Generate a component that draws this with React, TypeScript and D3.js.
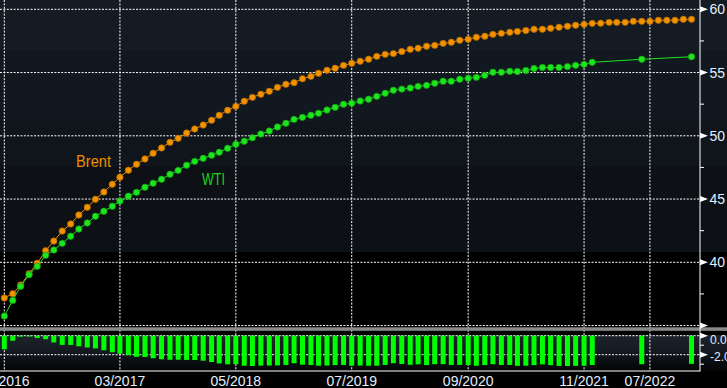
import * as React from "react"
import { scaleLinear, scaleUtc, line, utcMonth, range } from "d3"

// Brent futures curve, monthly contracts from 01/2016
const brentStart = "2016-01-01"
const brent = [
  37.18, 37.52, 38.2, 39.1, 39.92, 40.92, 41.68, 42.47, 43.03, 43.74,
  44.35, 44.98, 45.56, 46.17, 46.73, 47.28, 47.75, 48.17, 48.62, 49.04,
  49.49, 49.8, 50.22, 50.54, 50.85, 51.23, 51.62, 52.02, 52.33, 52.73,
  53.04, 53.29, 53.52, 53.83, 54.07, 54.2, 54.51, 54.7, 54.94, 55.18,
  55.34, 55.57, 55.73, 55.89, 56.05, 56.28, 56.44, 56.5, 56.66, 56.84,
  56.92, 57.08, 57.15, 57.31, 57.39, 57.55, 57.63, 57.79, 57.87, 58.02,
  58.1, 58.18, 58.25, 58.32, 58.42, 58.42, 58.5, 58.58, 58.66, 58.74,
  58.81, 58.89, 58.9, 58.97, 58.97, 58.97, 59.05, 59.05, 59.05, 59.13,
  59.13, 59.13, 59.21, 59.21,
]

// WTI: monthly to 12/2021, then 06/2022 and 12/2022
const wtiExtraMonths = ["2022-06-01", "2022-12-01"]
const wti = [
  35.75, 36.99, 38.1, 39.02, 39.68, 40.55, 40.97, 41.5, 42.06, 42.63,
  43.11, 43.64, 44.03, 44.43, 44.84, 45.23, 45.53, 45.93, 46.25, 46.56,
  46.96, 47.27, 47.67, 47.98, 48.22, 48.46, 48.7, 49.01, 49.33, 49.57,
  49.85, 50.14, 50.38, 50.7, 50.99, 51.3, 51.46, 51.62, 51.78, 52.04,
  52.25, 52.49, 52.57, 52.75, 52.89, 53.12, 53.36, 53.6, 53.69, 53.78,
  53.91, 53.99, 54.15, 54.31, 54.31, 54.47, 54.55, 54.62, 54.78, 55.02,
  55.02, 55.1, 55.08, 55.16, 55.32, 55.4, 55.4, 55.4, 55.47, 55.57,
  55.65, 55.81, 56.05, 56.25,
]

const xTicks = ["2016-01-01", "2017-03-01", "2018-05-01", "2019-07-01", "2020-09-01", "2021-11-01", "2022-07-01"]
const xTickLabels = ["01/2016", "03/2017", "05/2018", "07/2019", "09/2020", "11/2021", "07/2022"]
const yTicks = [35, 40, 45, 50, 55, 60]
const yMinor = [37.5, 42.5, 47.5, 52.5, 57.5]
const spreadTicks = [0, -2]
const spreadTickLabels = ["0.0", "-2.0"]
const spreadMinor = [-1, -3]

const W = 727
const H = 388
const axisX = 700

export default function App() {
  const start = new Date(brentStart)
  const brentDates = brent.map((_, i) => utcMonth.offset(start, i))
  const wtiDates = range(wti.length - wtiExtraMonths.length)
    .map((i) => utcMonth.offset(start, i))
    .concat(wtiExtraMonths.map((d) => new Date(d)))

  const x = scaleUtc()
    .domain([start, utcMonth.offset(start, 83)])
    .range([4.3, 4.3 + 83 * 8.28])
  const y = scaleLinear().domain([40, 60]).range([262.3, 9.3])
  const ys = scaleLinear().domain([0, -2]).range([335.7, 354.7])

  const brentPts = brent.map((v, i) => ({ d: brentDates[i], v }))
  const wtiPts = wti.map((v, i) => ({ d: wtiDates[i], v }))
  const spread = wtiPts.map((p) => {
    const b = brentPts.find((q) => +q.d === +p.d)
    return { d: p.d, v: p.v - (b ? b.v : p.v) }
  })

  const path = line<{ d: Date; v: number }>()
    .x((p) => x(p.d))
    .y((p) => y(p.v))

  const dash = "2 1.4"
  const font = "'Liberation Sans', Arial, sans-serif"
  const textCol = "#e4eefc"

  const bands = [
    [0, 50, "#151b22"],
    [50, 121, "#12181f"],
    [121, 166, "#10151b"],
    [166, 252, "#0d1116"],
  ] as const

  return (
    <div style={{ position: "fixed", left: 0, top: 0 }}>
      <svg width={W} height={H} style={{ display: "block" }}>
        <defs>
          <linearGradient id="lowbg" x1="0" y1="0" x2="0" y2="1">
            <stop offset="0" stopColor="#1c232b" />
            <stop offset="0.45" stopColor="#141a20" />
            <stop offset="1" stopColor="#030405" />
          </linearGradient>
          <clipPath id="main">
            <rect x={0} y={0} width={axisX} height={327} />
          </clipPath>
        </defs>
        <rect width={W} height={H} fill="#000" />
        {bands.map(([a, b, c]) => (
          <rect key={a} x={0} y={a} width={W} height={b - a} fill={c} />
        ))}
        <rect x={0} y={335} width={W} height={36} fill="url(#lowbg)" />

        {/* grid */}
        {yTicks.map((t) => (
          <line key={t} x1={0} x2={axisX} y1={y(t)} y2={y(t)} stroke="#fff" strokeDasharray={dash} />
        ))}
        {spreadTicks.map((t) => (
          <line key={t} x1={0} x2={axisX} y1={ys(t)} y2={ys(t)} stroke="#fff" strokeDasharray={dash} />
        ))}
        {xTicks.map((t) => (
          <line key={t} x1={x(new Date(t))} x2={x(new Date(t))} y1={0} y2={371} stroke="#fff" strokeDasharray={dash} />
        ))}

        {/* separator */}
        <rect x={0} y={327.3} width={W} height={3.5} fill="#8a8a8a" />

        {/* spread bars */}
        {spread.map((p, i) => (
          <rect
            key={i}
            x={x(p.d) - 2.5}
            y={ys(0)}
            width={5}
            height={ys(p.v) - ys(0)}
            fill="#00ff00"
          />
        ))}

        {/* curves */}
        <g clipPath="url(#main)">
          <path d={path(brentPts) || ""} fill="none" stroke="#f08c00" strokeWidth={1} />
          {brentPts.map((p, i) => (
            <circle key={i} cx={x(p.d)} cy={y(p.v)} r={3.2} fill="#f39200" stroke="#a86200" strokeWidth={0.7} />
          ))}
          <path d={path(wtiPts) || ""} fill="none" stroke="#1ee01e" strokeWidth={1} />
          {wtiPts.map((p, i) => (
            <circle key={i} cx={x(p.d)} cy={y(p.v)} r={3.2} fill="#1ee61e" stroke="#0e9a0e" strokeWidth={0.7} />
          ))}
        </g>

        <text x={76} y={166.5} fill="#f08c00" fontFamily={font} fontSize={16} textLength={35} lengthAdjust="spacingAndGlyphs">
          Brent
        </text>
        <text x={202} y={185} fill="#1ed21e" fontFamily={font} fontSize={16} textLength={23} lengthAdjust="spacingAndGlyphs">
          WTI
        </text>

        {/* right axis */}
        <line x1={axisX} x2={axisX} y1={0} y2={371.5} stroke="#fff" strokeWidth={1} />
        <line x1={0} x2={axisX} y1={371} y2={371} stroke="#fff" strokeWidth={1} />
        {yTicks.map((t) => (
          <g key={t}>
            <path d={`M${axisX},${y(t) - 3}L${axisX + 8},${y(t)}L${axisX},${y(t) + 3}Z`} fill="#fff" />
            {t > 35 && (
              <text x={709.5} y={y(t) + 5} fill={textCol} fontFamily={font} fontSize={14}>
                {t}
              </text>
            )}
          </g>
        ))}
        {yMinor.map((t) => (
          <line key={t} x1={axisX} x2={axisX + 4} y1={y(t)} y2={y(t)} stroke="#fff" />
        ))}
        {spreadTicks.map((t, i) => (
          <g key={t}>
            <path d={`M${axisX},${ys(t) - 3}L${axisX + 8},${ys(t)}L${axisX},${ys(t) + 3}Z`} fill="#fff" />
            <text x={710} y={ys(t) + (i === 0 ? 7.8 : 5.8)} fill={textCol} fontFamily={font} fontSize={12}>
              {spreadTickLabels[i]}
            </text>
          </g>
        ))}
        {spreadMinor.map((t) => (
          <line key={t} x1={axisX} x2={axisX + 4} y1={ys(t)} y2={ys(t)} stroke="#fff" />
        ))}

        {/* x labels */}
        {xTicks.map((t, i) => (
          <text
            key={t}
            x={x(new Date(t))}
            y={386}
            textAnchor="middle"
            fill={textCol}
            fontFamily={font}
            fontSize={14}
          >
            {xTickLabels[i]}
          </text>
        ))}
      </svg>
    </div>
  )
}
